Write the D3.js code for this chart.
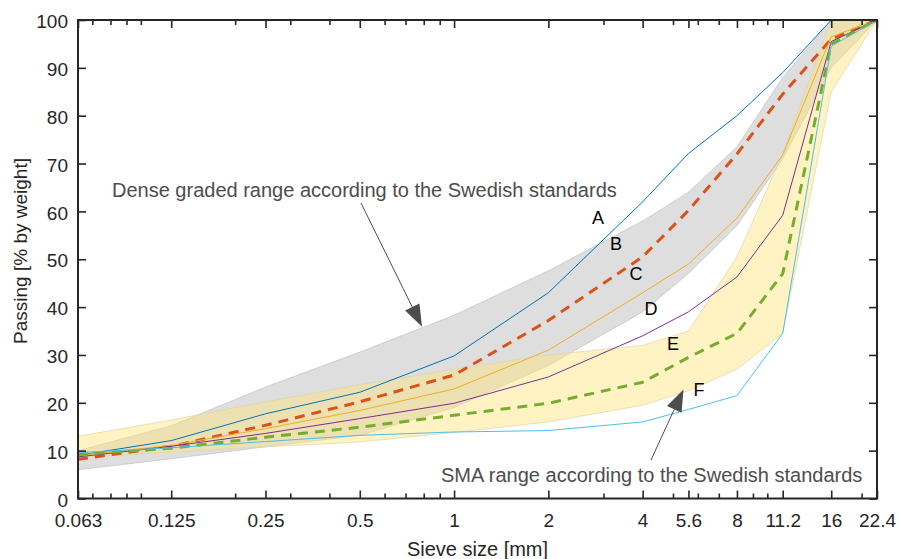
<!DOCTYPE html>
<html lang="en">
  <head>
    <title>Grading curves</title>
    <script src="https://d3js.org/d3.v7.min.js"></script>
    <style>
      body { margin: 0; background: #fff; }
      text { font-family: "Liberation Sans", Arial, Helvetica, sans-serif; }
    </style>
  </head>
  <body>
    <div id="content"></div>
    <script>
      // sieve sizes [mm] and tick labels
      var sieveSizes = [0.063, 0.125, 0.25, 0.5, 1, 2, 4, 5.6, 8, 11.2, 16, 22.4];
      var xTickLabels = ["0.063", "0.125", "0.25", "0.5", "1", "2", "4", "5.6", "8", "11.2", "16", "22.4"];
      var xMinorTicks = [0.07, 0.08, 0.09, 0.1, 0.2, 0.3, 0.4, 0.6, 0.7, 0.8, 0.9, 3, 5, 6, 7, 9, 10, 20];
      var yTicks = [0, 10, 20, 30, 40, 50, 60, 70, 80, 90, 100];

      // ranges from the Swedish standards (% passing)
      var denseUpper = [10, 15.2, 23.3, 30.6, 38.3, 47.6, 58, 64, 73.5, 88, 100, 100];
      var denseLower = [6, 8.3, 10.8, 13.2, 19, 27.8, 39, 47, 57, 71, 90, 100];
      var smaUpper = [13, 16.4, 20.2, 23.8, 27, 30, 32, 35, 50.5, 72, 100, 100];
      var smaLower = [8.6, 9.7, 10.8, 11.8, 13.8, 16, 19.5, 22.5, 27, 34.5, 85, 100];

      // grading curves A-F
      var curveA = [9, 12.1, 17.7, 22.2, 29.8, 43, 62, 72.1, 80, 89, 100, 100];
      var curveB = [8.2, 10.9, 15.3, 20.2, 25.8, 37.2, 50.5, 60.2, 72, 84.5, 96, 100];
      var curveC = [9, 11.1, 14.6, 18.4, 22.9, 31, 43, 49, 58.6, 71.8, 96.5, 100];
      var curveD = [8.7, 10.9, 13.6, 16.7, 19.9, 25.4, 34, 39, 46.3, 59.2, 95.5, 100];
      var curveE = [9.2, 10.5, 12.8, 14.9, 17.4, 19.9, 24.3, 29.5, 34.5, 47, 95, 100];
      var curveF = [9.6, 10.6, 11.9, 13.2, 13.9, 14.2, 16, 18.6, 21.5, 34.5, 94.5, 100];

      var curveNames = ["A", "B", "C", "D", "E", "F"];
      var curveValues = [curveA, curveB, curveC, curveD, curveE, curveF];
      var curveColors = ["#0072BD", "#D95319", "#EDB120", "#7E2F8E", "#77AC30", "#4DBEEE"];
      var curveDashed = [false, true, false, false, true, false];
      // letter label positions given in data units (size, % passing)
      var labelSize = [2.88, 3.29, 3.81, 4.25, 5.0, 6.05];
      var labelPass = [58.6, 53.3, 46.9, 39.7, 32.4, 22.8];

      var width = 898;
      var height = 559;
      var margin = { top: 20, right: 21, bottom: 60.5, left: 78 };

      var svg = d3
        .select("#content")
        .append("svg")
        .attr("width", width)
        .attr("height", height);

      svg.append("rect").attr("width", width).attr("height", height).attr("fill", "#fff");

      var x = d3
        .scaleLog()
        .domain([0.063, 22.4])
        .range([margin.left, width - margin.right]);

      var y = d3
        .scaleLinear()
        .domain([0, 100])
        .range([height - margin.bottom, margin.top]);

      // shaded ranges
      var area = d3
        .area()
        .x(function (d) { return x(d.s); })
        .y0(function (d) { return y(d.lo); })
        .y1(function (d) { return y(d.hi); });

      function band(lo, hi) {
        return sieveSizes.map(function (s, i) {
          return { s: s, lo: lo[i], hi: hi[i] };
        });
      }

      svg
        .append("path")
        .attr("d", area(band(denseLower, denseUpper)))
        .attr("fill", "#bdbdbd")
        .attr("fill-opacity", 0.5)
        .attr("stroke", "#bdbdbd")
        .attr("stroke-opacity", 0.6)
        .attr("stroke-width", 1);

      svg
        .append("path")
        .attr("d", area(band(smaLower, smaUpper)))
        .attr("fill", "#ffe27a")
        .attr("fill-opacity", 0.45)
        .attr("stroke", "#e0d6a8")
        .attr("stroke-opacity", 0.7)
        .attr("stroke-width", 1);

      // curves
      var line = d3
        .line()
        .x(function (d, i) { return x(sieveSizes[i]); })
        .y(function (d) { return y(d); });

      curveValues.forEach(function (vals, k) {
        svg
          .append("path")
          .attr("d", line(vals))
          .attr("fill", "none")
          .attr("stroke", curveColors[k])
          .attr("stroke-width", curveDashed[k] ? 3 : 1)
          .attr("stroke-dasharray", curveDashed[k] ? "10,7" : null);
      });

      svg
        .selectAll(".curve-label")
        .data(curveNames)
        .enter()
        .append("text")
        .attr("class", "curve-label")
        .attr("x", function (d, i) { return x(labelSize[i]); })
        .attr("y", function (d, i) { return y(labelPass[i]); })
        .attr("text-anchor", "middle")
        .attr("dy", "0.35em")
        .attr("font-size", 18)
        .attr("fill", "#000")
        .text(function (d) { return d; });

      // axes, ticks pointing inward
      var axisColor = "#262626";
      var plotBottom = height - margin.bottom;
      var plotRight = width - margin.right;

      function styleAxis(g) {
        g.select(".domain").remove();
        g.selectAll("line").attr("stroke", axisColor).attr("stroke-width", 1.6);
        g.selectAll("text")
          .attr("fill", axisColor)
          .attr("font-size", 19)
          .attr("font-family", '"Liberation Sans", Arial, Helvetica, sans-serif');
      }

      svg
        .append("g")
        .attr("transform", "translate(0," + plotBottom + ")")
        .call(
          d3.axisBottom(x)
            .tickValues(sieveSizes)
            .tickFormat(function (d, i) { return xTickLabels[i]; })
            .tickSizeInner(-8)
            .tickSizeOuter(0)
            .tickPadding(15)
        )
        .call(styleAxis);

      svg
        .append("g")
        .attr("transform", "translate(0," + plotBottom + ")")
        .call(d3.axisBottom(x).tickValues(xMinorTicks).tickFormat("").tickSizeInner(-5).tickSizeOuter(0))
        .call(styleAxis);

      svg
        .append("g")
        .attr("transform", "translate(0," + margin.top + ")")
        .call(d3.axisTop(x).tickValues(sieveSizes).tickFormat("").tickSizeInner(-8).tickSizeOuter(0))
        .call(styleAxis);

      svg
        .append("g")
        .attr("transform", "translate(0," + margin.top + ")")
        .call(d3.axisTop(x).tickValues(xMinorTicks).tickFormat("").tickSizeInner(-5).tickSizeOuter(0))
        .call(styleAxis);

      svg
        .append("g")
        .attr("transform", "translate(" + margin.left + ",0)")
        .call(d3.axisLeft(y).tickValues(yTicks).tickSizeInner(-8).tickSizeOuter(0).tickPadding(10))
        .call(styleAxis)
        .selectAll("text")
        .attr("dy", "0.4em");

      svg
        .append("g")
        .attr("transform", "translate(" + plotRight + ",0)")
        .call(d3.axisRight(y).tickValues(yTicks).tickFormat("").tickSizeInner(-8).tickSizeOuter(0))
        .call(styleAxis);

      svg
        .append("rect")
        .attr("x", margin.left)
        .attr("y", margin.top)
        .attr("width", plotRight - margin.left)
        .attr("height", plotBottom - margin.top)
        .attr("fill", "none")
        .attr("stroke", axisColor)
        .attr("stroke-width", 2);

      // axis titles
      svg
        .append("text")
        .attr("x", (margin.left + plotRight) / 2)
        .attr("y", 556)
        .attr("text-anchor", "middle")
        .attr("font-size", 20)
        .attr("fill", axisColor)
        .text("Sieve size [mm]");

      svg
        .append("text")
        .attr("transform", "translate(27,251) rotate(-90)")
        .attr("text-anchor", "middle")
        .attr("font-size", 19)
        .attr("fill", axisColor)
        .text("Passing [% by weight]");

      // annotations with arrows
      var noteColor = "#4d4d4d";

      function arrow(x1, y1, x2, y2) {
        var dx = x2 - x1, dy = y2 - y1;
        var len = Math.sqrt(dx * dx + dy * dy);
        var ux = dx / len, uy = dy / len;
        var headLen = 22, headHalf = 8;
        var bx = x2 - ux * headLen, by = y2 - uy * headLen;
        svg
          .append("line")
          .attr("x1", x1).attr("y1", y1)
          .attr("x2", bx).attr("y2", by)
          .attr("stroke", noteColor)
          .attr("stroke-width", 1);
        svg
          .append("path")
          .attr("d",
            "M" + x2 + "," + y2 +
            "L" + (bx - uy * headHalf) + "," + (by + ux * headHalf) +
            "L" + (bx + uy * headHalf) + "," + (by - ux * headHalf) + "Z")
          .attr("fill", noteColor);
      }

      svg
        .append("text")
        .attr("x", 112)
        .attr("y", 197)
        .attr("font-size", 20)
        .attr("fill", noteColor)
        .text("Dense graded range according to the Swedish standards");
      arrow(361, 203, x(0.79), y(35.9));

      svg
        .append("text")
        .attr("x", 441)
        .attr("y", 482)
        .attr("font-size", 20)
        .attr("fill", noteColor)
        .text("SMA range according to the Swedish standards");
      arrow(651, 460, x(5.4), y(22.8));
    </script>
  </body>
</html>
